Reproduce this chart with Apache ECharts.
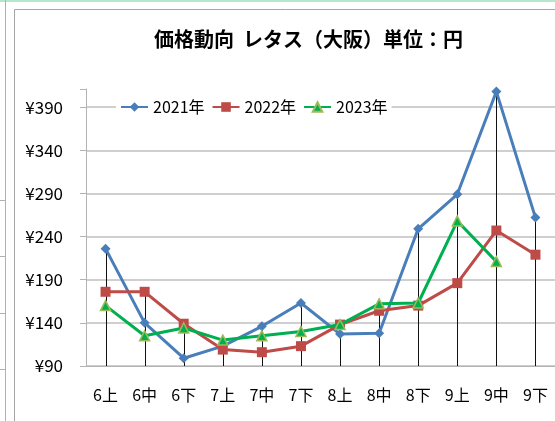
<!DOCTYPE html>
<html>
<head>
<meta charset="utf-8">
<script src="https://cdn.jsdelivr.net/npm/echarts@6/dist/echarts.min.js"></script>
<style>
  html, body { margin: 0; padding: 0; background: #fff; }
  #chart { width: 555px; height: 421px; }
</style>
</head>
<body>
<div id="chart"></div>
<script>
// 価格動向 レタス（大阪）
const categories = ['6上', '6中', '6下', '7上', '7中', '7下', '8上', '8中', '8下', '9上', '9中', '9下']
const seriesNames = ['2021年', '2022年', '2023年']
const price2021 = [226, 140, 99, 113, 136, 163, 127, 128, 249, 289, 408, 262]
const price2022 = [176, 176, 139, 109, 106, 113, 138, 154, 160, 186, 247, 219]
const price2023 = [160, 125, 134, 120, 125, 130, 138, 162, 163, 258, 211, null]
const yMin = 90
const yMax = 411
const yStep = 50

const font = '"Noto Sans CJK JP", "Noto Sans", sans-serif'

// drop lines go from the highest point of each category down to the axis
const dropData = categories.map((c, i) => {
  const vals = [price2021[i], price2022[i], price2023[i]].filter(v => v != null)
  return [i, Math.max.apply(null, vals)]
})

const chart = echarts.init(document.getElementById('chart'))

chart.setOption({
  animation: false,
  backgroundColor: '#fff',
  textStyle: { fontFamily: font },
  title: {
    text: '価格動向  レタス（大阪）単位：円',
    left: 154,
    top: 29,
    padding: 0,
    textStyle: {
      fontFamily: font,
      fontSize: 20,
      fontWeight: 'bold',
      color: '#000'
    }
  },
  legend: {
    data: seriesNames,
    left: 116,
    top: 97,
    padding: [2, 4],
    backgroundColor: '#fff',
    itemWidth: 27,
    itemHeight: 12,
    itemGap: 7,
    textStyle: { fontFamily: font, fontSize: 16, color: '#000' }
  },
  grid: {
    left: 86,
    right: 0,
    top: 89,
    bottom: 55,
    containLabel: false
  },
  xAxis: {
    type: 'category',
    data: categories,
    boundaryGap: true,
    axisLine: { lineStyle: { color: '#b3b3b3', width: 1 } },
    axisTick: { show: false },
    axisLabel: {
      margin: 21,
      fontFamily: font,
      fontSize: 16,
      color: '#000'
    }
  },
  yAxis: {
    type: 'value',
    min: yMin,
    max: yMax,
    interval: yStep,
    axisLine: { show: true, lineStyle: { color: '#b3b3b3', width: 1 } },
    axisTick: { show: true, length: 6, lineStyle: { color: '#b3b3b3' } },
    axisLabel: {
      margin: 23,
      fontFamily: font,
      fontSize: 17,
      color: '#000',
      formatter: function (v) {
        return (v - yMin) % yStep === 0 ? '¥' + v : ''
      }
    },
    splitLine: {
      show: true,
      lineStyle: {
        color: ['#bfbfbf', '#bfbfbf', '#bfbfbf', '#bfbfbf', '#bfbfbf', '#bfbfbf', '#bfbfbf', 'rgba(0,0,0,0)'],
        width: 1.5
      }
    }
  },
  graphic: [
    { type: 'rect', shape: { x: 0, y: 0, width: 555, height: 2 }, style: { fill: '#b5e8cb' }, silent: true },
    { type: 'rect', shape: { x: 14.5, y: 9.5, width: 560, height: 430 }, style: { fill: 'none', stroke: '#a6a6a6', lineWidth: 1 }, silent: true, z: -10 },
    { type: 'line', shape: { x1: 5.5, y1: 0, x2: 5.5, y2: 421 }, style: { stroke: '#b0b0b0', lineWidth: 1 }, silent: true },
    { type: 'line', shape: { x1: 0, y1: 200.5, x2: 5, y2: 200.5 }, style: { stroke: '#b0b0b0', lineWidth: 1 }, silent: true },
    { type: 'line', shape: { x1: 0, y1: 256.5, x2: 5, y2: 256.5 }, style: { stroke: '#b0b0b0', lineWidth: 1 }, silent: true },
    { type: 'line', shape: { x1: 0, y1: 313.5, x2: 5, y2: 313.5 }, style: { stroke: '#b0b0b0', lineWidth: 1 }, silent: true },
    { type: 'line', shape: { x1: 0, y1: 369.5, x2: 5, y2: 369.5 }, style: { stroke: '#b0b0b0', lineWidth: 1 }, silent: true }
  ],
  series: [
    {
      name: 'drop',
      type: 'custom',
      data: dropData,
      z: 1,
      silent: true,
      renderItem: function (params, api) {
        const top = api.coord([api.value(0), api.value(1)])
        const bottom = api.coord([api.value(0), yMin])
        const x = Math.round(top[0]) + 0.5
        return {
          type: 'line',
          shape: { x1: x, y1: top[1], x2: x, y2: bottom[1] },
          style: { stroke: '#111', lineWidth: 1 }
        }
      }
    },
    {
      name: '2021年',
      type: 'line',
      data: price2021,
      z: 3,
      symbol: 'diamond',
      symbolSize: 10,
      lineStyle: { color: '#4a7ebb', width: 3 },
      itemStyle: { color: '#4a7ebb' }
    },
    {
      name: '2022年',
      type: 'line',
      data: price2022,
      z: 4,
      symbol: 'rect',
      symbolSize: 10,
      lineStyle: { color: '#be4b48', width: 3 },
      itemStyle: { color: '#be4b48' }
    },
    {
      name: '2023年',
      type: 'line',
      data: price2023,
      z: 5,
      symbol: 'triangle',
      symbolSize: 10,
      lineStyle: { color: '#00b050', width: 3 },
      itemStyle: { color: '#00b050', borderColor: '#9bbb59', borderWidth: 1.5 }
    }
  ]
})
</script>
</body>
</html>
